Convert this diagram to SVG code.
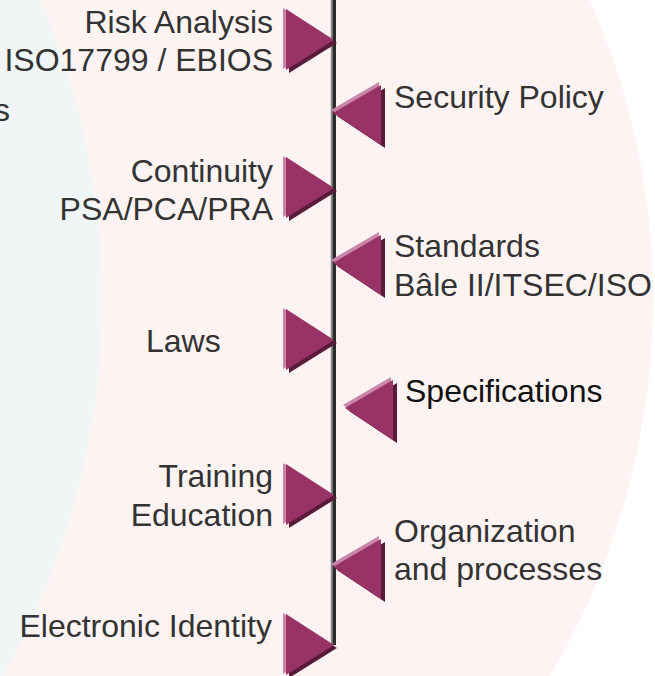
<svg xmlns="http://www.w3.org/2000/svg" width="655" height="676" viewBox="0 0 655 676">
<style>
  text { font-family: "Liberation Sans", Arial, sans-serif; font-size: 32px; fill: #333333; }
  .end { text-anchor: end; }
  .lt { fill: #C985AA; }
  .mn { fill: #993366; }
  .dk { fill: #5A1B3A; }
</style>
<defs>
  <g id="triR">
    <polygon class="lt" points="-51,-32 -3,-1 -51,29"/>
    <polygon class="dk" points="-45,-28 3,3 -45,33"/>
    <polygon class="mn" points="-48,-31 0,0 -48,30"/>
  </g>
  <g id="triL">
    <polygon class="lt" points="-2,-3 46,-31 46,29"/>
    <polygon class="dk" points="4,3 52,-25 52,35"/>
    <polygon class="mn" points="0,0 48,-28 48,32"/>
  </g>
</defs>
<rect x="0" y="0" width="655" height="676" fill="#FFFFFF"/>
<circle cx="-88" cy="299" r="741" fill="#FDF3F3"/>
<circle cx="-658" cy="300" r="760" fill="#F0F5F5"/>
<g id="connectors">
  <line x1="331.5" y1="0" x2="331.5" y2="645" stroke="#8A8A8A" stroke-width="1.5"/>
  <line x1="334.2" y1="0" x2="334.2" y2="645" stroke="#2B2B2B" stroke-width="3.6"/>
</g>
<text x="-6" y="121">s</text>
<g id="risk">
  <use href="#triR" x="334" y="40"/>
  <text class="end" x="273" y="33">Risk Analysis</text>
  <text class="end" x="273" y="71">ISO17799 / EBIOS</text>
</g>
<g id="security">
  <use href="#triL" x="333" y="113"/>
  <text x="394" y="108">Security Policy</text>
</g>
<g id="continuity">
  <use href="#triR" x="334" y="188"/>
  <text class="end" x="273" y="182">Continuity</text>
  <text class="end" x="273" y="220">PSA/PCA/PRA</text>
</g>
<g id="standards">
  <use href="#triL" x="333" y="263"/>
  <text x="394" y="257">Standards</text>
  <text x="394" y="296">Bâle II/ITSEC/ISO</text>
</g>
<g id="laws">
  <use href="#triR" x="334" y="340"/>
  <text x="146" y="352">Laws</text>
</g>
<g id="specifications">
  <use href="#triL" x="345" y="408"/>
  <text x="405" y="402" style="fill:#111111">Specifications</text>
</g>
<g id="training">
  <use href="#triR" x="334" y="495"/>
  <text class="end" x="273" y="487">Training</text>
  <text class="end" x="273" y="526">Education</text>
</g>
<g id="organization">
  <use href="#triL" x="333" y="567"/>
  <text x="394" y="542">Organization</text>
  <text x="394" y="580">and processes</text>
</g>
<g id="identity">
  <use href="#triR" x="334" y="645"/>
  <text class="end" x="272" y="637">Electronic Identity</text>
</g>
</svg>
